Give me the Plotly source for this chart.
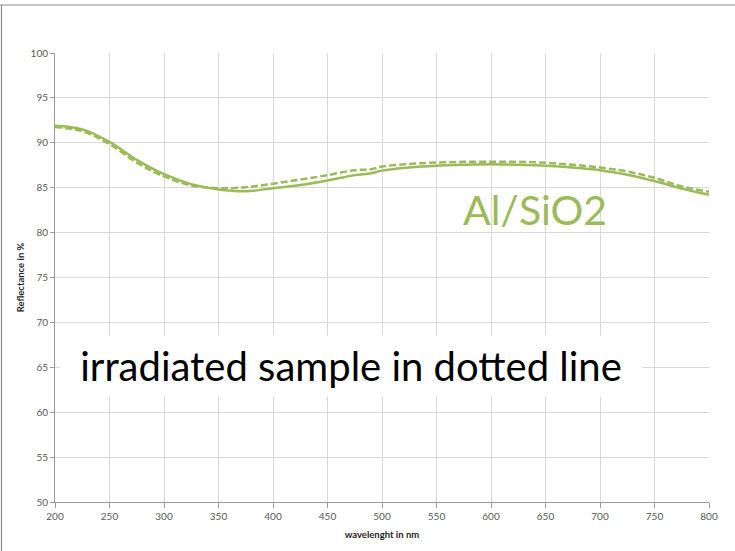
import plotly.graph_objects as go

wavelength = [200, 225, 250, 275, 300, 325, 350, 375, 400, 425, 450, 475, 490,
              500, 525, 550, 575, 600, 625, 650, 675, 700, 725, 750, 775, 800]
reference = [91.9, 91.5, 90.1, 88.1, 86.5, 85.4, 84.8, 84.6, 84.95, 85.3, 85.8,
             86.4, 86.6, 86.9, 87.25, 87.45, 87.55, 87.6, 87.55, 87.45, 87.25,
             86.95, 86.45, 85.75, 84.9, 84.2]
irradiated = [91.75, 91.3, 89.85, 87.8, 86.25, 85.25, 84.95, 85.05, 85.45, 85.9,
              86.4, 86.95, 87.05, 87.35, 87.65, 87.8, 87.88, 87.9, 87.88, 87.78,
              87.55, 87.25, 86.8, 86.1, 85.15, 84.55]
x_ticks = [200, 250, 300, 350, 400, 450, 500, 550, 600, 650, 700, 750, 800]
y_ticks = [50, 55, 60, 65, 70, 75, 80, 85, 90, 95, 100]

GREEN = "#9BBB59"
W, H = 735, 551
L, R, T, B = 55, 26, 53, 49
PW, PH = W - L - R, H - T - B


def px(x):
    return (x - L) / PW


def py(y):
    return (H - B - y) / PH


fig = go.Figure()
fig.add_trace(go.Scatter(x=wavelength, y=reference, mode="lines",
                         line=dict(color=GREEN, width=2.5, shape="spline"),
                         name="reference"))
fig.add_trace(go.Scatter(x=wavelength, y=irradiated, mode="lines",
                         line=dict(color=GREEN, width=2.5, shape="spline", dash="7px,3px"),
                         name="irradiated"))

axis_font = dict(family="Lato, sans-serif", size=10, color="#595959")
fig.update_layout(
    width=W, height=H,
    margin=dict(l=L, r=R, t=T, b=B),
    paper_bgcolor="white", plot_bgcolor="white",
    showlegend=False,
    xaxis=dict(range=[200, 800], tickvals=x_ticks, showgrid=True, gridcolor="#d9d9d9",
               gridwidth=1, showline=True, linecolor="#9a9a9a", linewidth=1,
               ticks="outside", ticklen=5, tickcolor="#9a9a9a", tickfont=axis_font,
               zeroline=False,
               title=dict(text="<b>wavelenght in nm</b>", standoff=10,
                          font=dict(family="Lato, sans-serif", size=9.5, color="#262626"))),
    yaxis=dict(range=[50, 100], tickvals=y_ticks, showgrid=True, gridcolor="#d9d9d9",
               gridwidth=1, showline=True, linecolor="#9a9a9a", linewidth=1,
               ticks="outside", ticklen=4, tickcolor="#9a9a9a", tickfont=axis_font,
               zeroline=False,
               title=dict(text="<b>Reflectance in %</b>", standoff=4,
                          font=dict(family="Lato, sans-serif", size=9.5, color="#262626"))),
    shapes=[
        dict(type="line", xref="paper", yref="paper", x0=px(0), x1=px(735), y0=py(5), y1=py(5),
             line=dict(color="#8a8a8a", width=1.2)),
        dict(type="line", xref="paper", yref="paper", x0=px(1.5), x1=px(1.5), y0=py(5), y1=py(551),
             line=dict(color="#8a8a8a", width=1.2)),
    ],
    annotations=[
        dict(text="irradiated sample in dotted line", xref="paper", yref="paper",
             x=px(351), y=py(366), xanchor="center", yanchor="middle", showarrow=False,
             bgcolor="white", width=580, height=58,
             font=dict(family="Lato, sans-serif", size=40, color="#000000")),
        dict(text="Al/SiO2", xref="paper", yref="paper",
             x=px(535), y=py(209), xanchor="center", yanchor="middle", showarrow=False,
             font=dict(family="Lato, sans-serif", size=41, color=GREEN)),
    ],
)

fig.write_html("out.html", config={"displayModeBar": False},
               post_script="document.body.style.margin='0';")
